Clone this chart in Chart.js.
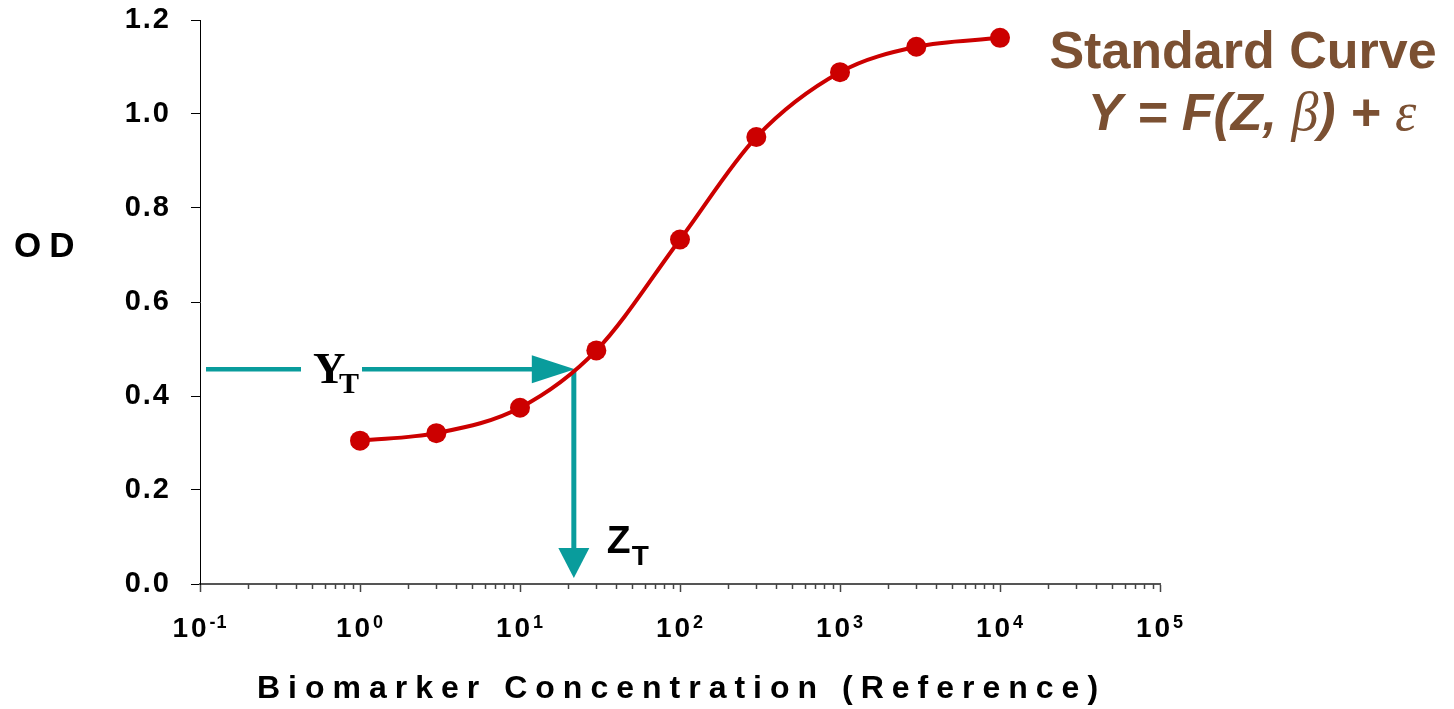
<!DOCTYPE html>
<html><head><meta charset="utf-8">
<script src="https://cdn.jsdelivr.net/npm/chart.js@4.4.1/dist/chart.umd.min.js"></script>
<style>html,body{margin:0;padding:0;background:#fff;overflow:hidden}canvas{display:block}</style>
</head><body>
<canvas id="c" width="1454" height="709"></canvas>
<script>
// ---- data ----
const concentrations = [1, 3, 10, 30, 100, 300, 1000, 3000, 10000];
const odValues = [0.305, 0.321, 0.375, 0.497, 0.733, 0.951, 1.089, 1.143, 1.162];
const xTickValues = [0.1, 1, 10, 100, 1000, 10000, 100000];
const xTickBase = '10';
const xTickExponents = ['-1', '0', '1', '2', '3', '4', '5'];
const yTickValues = [0, 0.2, 0.4, 0.6, 0.8, 1.0, 1.2];
const yTickLabels = ['0.0', '0.2', '0.4', '0.6', '0.8', '1.0', '1.2'];
const minorMultipliers = [2, 3, 4, 5, 6, 7, 8, 9];
const targetOD = 0.457;     // Y_T
const targetConc = 21.7;    // Z_T
const xAxisTitle = 'Biomarker Concentration (Reference)';
const yAxisTitle = 'OD';
const titleLine1 = 'Standard Curve';
const titleLine2Parts = ['Y = F(Z, ', 'β', ') + ', 'ε'];

// ---- styles ----
const SANS = 'Arial, "Liberation Sans", Helvetica, sans-serif';
const SERIF = '"Times New Roman", "Liberation Serif", serif';
const RED = '#cc0000';
const TEAL = '#099c9c';
const BROWN = '#7b5032';

const annot = {
  id: 'annot',
  beforeDraw(chart) { chart.ctx.letterSpacing = '2px'; },
  beforeDatasetsDraw(chart) {
    const { ctx, scales: { x, y }, chartArea: a } = chart;
    ctx.save();
    ctx.letterSpacing = '0px';
    // minor ticks on log axis
    ctx.strokeStyle = '#444'; ctx.lineWidth = 1.5;
    for (let d = -1; d < 5; d++) {
      for (const m of minorMultipliers) {
        const px = Math.round(x.getPixelForValue(m * Math.pow(10, d))) + 0.5;
        ctx.beginPath(); ctx.moveTo(px, a.bottom); ctx.lineTo(px, a.bottom + 5); ctx.stroke();
      }
    }
    // x tick labels: 10 with superscript exponent
    ctx.fillStyle = '#000'; ctx.textBaseline = 'alphabetic'; ctx.textAlign = 'left';
    x.ticks.forEach((t, i) => {
      const px = x.getPixelForValue(t.value);
      ctx.letterSpacing = '3px';
      ctx.font = 'bold 28px ' + SANS;
      const wb = ctx.measureText(xTickBase).width;
      ctx.letterSpacing = '1px';
      ctx.font = 'bold 18px ' + SANS;
      const we = ctx.measureText(xTickExponents[i]).width;
      const x0 = px - (wb + we) / 2;
      ctx.letterSpacing = '3px';
      ctx.font = 'bold 28px ' + SANS;
      ctx.fillText(xTickBase, x0, a.bottom + 53);
      ctx.letterSpacing = '1px';
      ctx.font = 'bold 18px ' + SANS;
      ctx.fillText(xTickExponents[i], x0 + wb, a.bottom + 44);
    });
    ctx.letterSpacing = '0px';
    // arrows
    const px = x.getPixelForValue(targetConc), py = y.getPixelForValue(targetOD);
    ctx.strokeStyle = TEAL; ctx.fillStyle = TEAL; ctx.lineWidth = 4.5; ctx.lineCap = 'butt';
    ctx.beginPath();
    ctx.moveTo(a.left + 6, py); ctx.lineTo(a.left + 101, py);
    ctx.moveTo(a.left + 162, py); ctx.lineTo(px - 40, py);
    ctx.stroke();
    ctx.beginPath();
    ctx.moveTo(px + 1, py); ctx.lineTo(px - 42, py - 14); ctx.lineTo(px - 42, py + 14); ctx.closePath(); ctx.fill();
    ctx.lineWidth = 5;
    ctx.beginPath(); ctx.moveTo(px, py + 1); ctx.lineTo(px, a.bottom - 34); ctx.stroke();
    ctx.beginPath();
    ctx.moveTo(px, a.bottom - 6); ctx.lineTo(px - 15.5, a.bottom - 36); ctx.lineTo(px + 15.5, a.bottom - 36); ctx.closePath(); ctx.fill();
    // labels Y_T and Z_T
    ctx.fillStyle = '#000';
    ctx.font = 'bold 45px ' + SERIF; ctx.fillText('Y', a.left + 113, py + 14);
    ctx.font = 'bold 30px ' + SERIF; ctx.fillText('T', a.left + 139, py + 24);
    ctx.font = 'bold 39px ' + SANS; ctx.fillText('Z', px + 33, a.bottom - 31);
    ctx.font = 'bold 28px ' + SANS; ctx.fillText('T', px + 58, a.bottom - 19);
    ctx.restore();
  },
  afterDraw(chart) {
    const { ctx } = chart;
    ctx.save();
    ctx.textBaseline = 'alphabetic';
    // axis titles
    ctx.fillStyle = '#000'; ctx.textAlign = 'left';
    ctx.letterSpacing = '8px';
    ctx.font = 'bold 35px ' + SANS; ctx.fillText(yAxisTitle, 14, 257);
    ctx.font = 'bold 32px ' + SANS; ctx.fillText(xAxisTitle, 257, 698);
    // chart title
    ctx.letterSpacing = '0px';
    ctx.fillStyle = BROWN;
    ctx.font = 'bold 52px ' + SANS; ctx.textAlign = 'center';
    ctx.fillText(titleLine1, 1243, 68);
    const fonts = ['italic bold 52px ' + SANS, 'italic 54px ' + SERIF, 'italic bold 52px ' + SANS, 'italic 54px ' + SERIF];
    const widths = titleLine2Parts.map((t, i) => { ctx.font = fonts[i]; return ctx.measureText(t).width; });
    const total = widths.reduce((s, w) => s + w, 0);
    let cx = 1252 - total / 2;
    ctx.textAlign = 'left';
    titleLine2Parts.forEach((t, i) => { ctx.font = fonts[i]; ctx.fillText(t, cx, 130); cx += widths[i]; });
    ctx.restore();
  }
};

new Chart(document.getElementById('c').getContext('2d'), {
  type: 'line',
  data: {
    datasets: [{
      data: concentrations.map((c, i) => ({ x: c, y: odValues[i] })),
      borderColor: RED, backgroundColor: RED, borderWidth: 4,
      pointRadius: 10, pointBackgroundColor: RED, pointBorderWidth: 0,
      cubicInterpolationMode: 'monotone', fill: false
    }]
  },
  options: {
    responsive: false, animation: false, events: [],
    layout: { padding: { top: 20, right: 294, left: 0, bottom: 0 } },
    plugins: { legend: { display: false }, tooltip: { enabled: false } },
    scales: {
      x: {
        type: 'logarithmic', min: 0.1, max: 100000,
        afterBuildTicks: s => { s.ticks = xTickValues.map(v => ({ value: v, major: true })); },
        afterFit: s => { s.height = 125; s.paddingLeft = 0; s.paddingRight = 0; },
        ticks: { display: false, autoSkip: false, maxRotation: 0, minRotation: 0 },
        grid: { drawOnChartArea: false, tickLength: 8, tickColor: '#444', tickWidth: 1.5 },
        border: { color: '#555', width: 2 }
      },
      y: {
        min: 0, max: 1.2,
        afterBuildTicks: s => { s.ticks = yTickValues.map(v => ({ value: v })); },
        afterFit: s => { s.width = 200; s.paddingTop = 0; s.paddingBottom = 0; },
        ticks: { padding: 20, color: '#000', font: { family: SANS, size: 29, weight: 'bold' },
          callback: (v, i) => yTickLabels[i] },
        grid: { drawOnChartArea: false, tickLength: 9, tickColor: '#000', tickWidth: 1 },
        border: { color: '#000', width: 1 }
      }
    }
  },
  plugins: [annot]
});
</script>
</body></html>
